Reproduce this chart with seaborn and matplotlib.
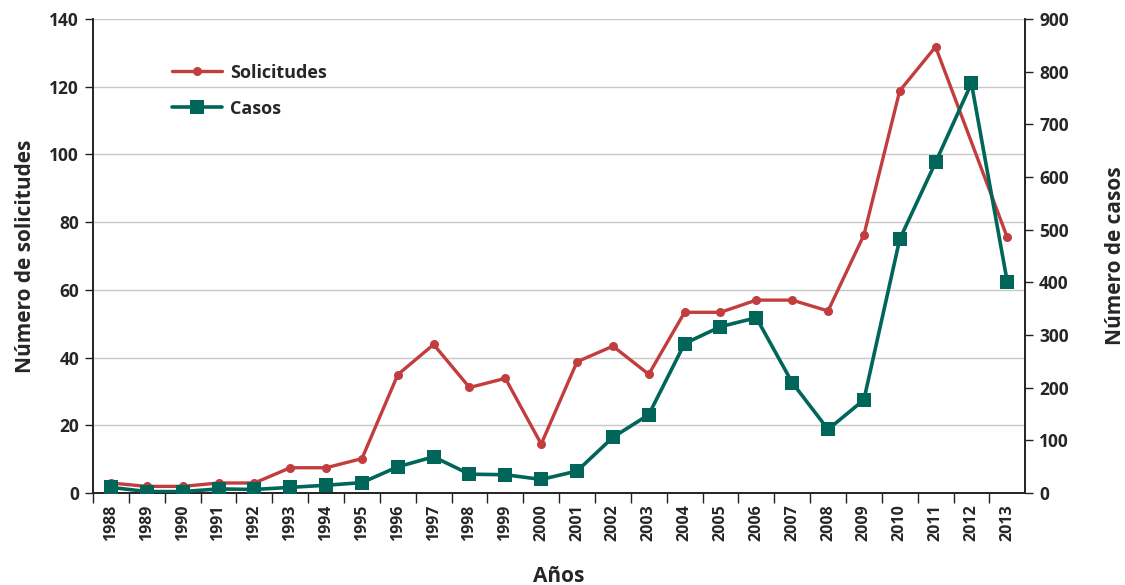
import numpy as np
import pandas as pd
import matplotlib
matplotlib.use("Agg")
import matplotlib.pyplot as plt
import seaborn as sns
from matplotlib.lines import Line2D

years = list(range(1988, 2014))
solicitudes = [3, 2, 2, 3, 3, 7.5, 7.5, 10.2, 35, 43.9, 31.2, 33.9, 14.5, 38.8,
               43.4, 35.1, 53.4, 53.4, 57, 57, 53.8, 76.2, 118.8, 131.8, np.nan, 75.5]
casos = [11, 3, 3, 8, 7, 11, 15, 20, 50, 69, 36, 35, 26, 42, 106, 149, 284,
         316, 333, 210, 121, 177, 482, 628, 778, 401]
left_ticks = [0, 20, 40, 60, 80, 100, 120, 140]
right_ticks = [0, 100, 200, 300, 400, 500, 600, 700, 800, 900]

RED = "#c23d3d"
TEAL = "#00665a"

sns.set_theme(style="white")
plt.rcParams['font.family'] = ['Open Sans', 'DejaVu Sans']
plt.rcParams['font.weight'] = 'bold'

df = pd.DataFrame({"idx": np.arange(len(years)), "Solicitudes": solicitudes, "Casos": casos})

fig = plt.figure(figsize=(11.25, 5.85), dpi=100)
ax = fig.add_axes([0.0827, 0.157, 0.9113 - 0.0827, 0.9675 - 0.157])
ax2 = ax.twinx()

sns.lineplot(data=df.dropna(subset=["Solicitudes"]), x="idx", y="Solicitudes", ax=ax,
             color=RED, linewidth=2.4, marker="o", markersize=6.5, markeredgewidth=0, zorder=3)
sns.lineplot(data=df, x="idx", y="Casos", ax=ax2, color=TEAL, linewidth=2.6,
             marker="s", markersize=10, markeredgewidth=0, zorder=3)

ax.set_xlim(-0.5, len(years) - 0.5)
ax.set_ylim(0, 140)
ax2.set_ylim(0, 900)
ax.set_yticks(left_ticks)
ax2.set_yticks(right_ticks)
ax.set_yticklabels([str(t) for t in left_ticks], fontsize=12.5, fontweight='bold')
ax2.set_yticklabels([str(t) for t in right_ticks], fontsize=12.5, fontweight='bold')

ax.set_xticks(np.arange(len(years)) - 0.5, minor=False)
ax.set_xticklabels([])
ax.set_xticks(np.arange(len(years)), minor=True)
ax.set_xticklabels([str(y) for y in years], minor=True, rotation=90, fontsize=11.5, fontweight='bold')
ax.tick_params(axis='x', which='major', length=7, width=1, direction='out', bottom=True, color='#222222')
ax.tick_params(axis='x', which='minor', length=0, pad=8)
ax.tick_params(axis='y', length=6, width=1, direction='out', left=True, color='#222222', pad=4)
ax2.tick_params(axis='y', length=6, width=1, direction='out', right=True, color='#222222', pad=4)

ax.grid(axis='y', color='#c8c8c8', linewidth=1)
ax.set_axisbelow(True)

for a in (ax, ax2):
    a.spines['top'].set_visible(False)
    for s in ('left', 'right', 'bottom'):
        a.spines[s].set_color('#222222')
        a.spines[s].set_linewidth(1.2)

ax.set_xlabel("Años", fontsize=15, fontweight='bold', labelpad=18)
ax.set_ylabel("Número de solicitudes", fontsize=15, fontweight='bold', labelpad=10)
ax2.set_ylabel("Número de casos", fontsize=15, fontweight='bold', labelpad=26)

handles = [Line2D([], [], color=RED, lw=2.4, marker='o', markersize=6.5, markeredgewidth=0),
           Line2D([], [], color=TEAL, lw=2.6, marker='s', markersize=10, markeredgewidth=0)]
ax2.legend(handles, ["Solicitudes", "Casos"], loc='upper left', bbox_to_anchor=(0.067, 0.94),
           frameon=False, prop={'size': 13, 'weight': 'bold'}, handlelength=2.8,
           labelspacing=1.0, handletextpad=0.45)
if ax.get_legend():
    ax.get_legend().remove()

fig.savefig("out.png", dpi=100)
